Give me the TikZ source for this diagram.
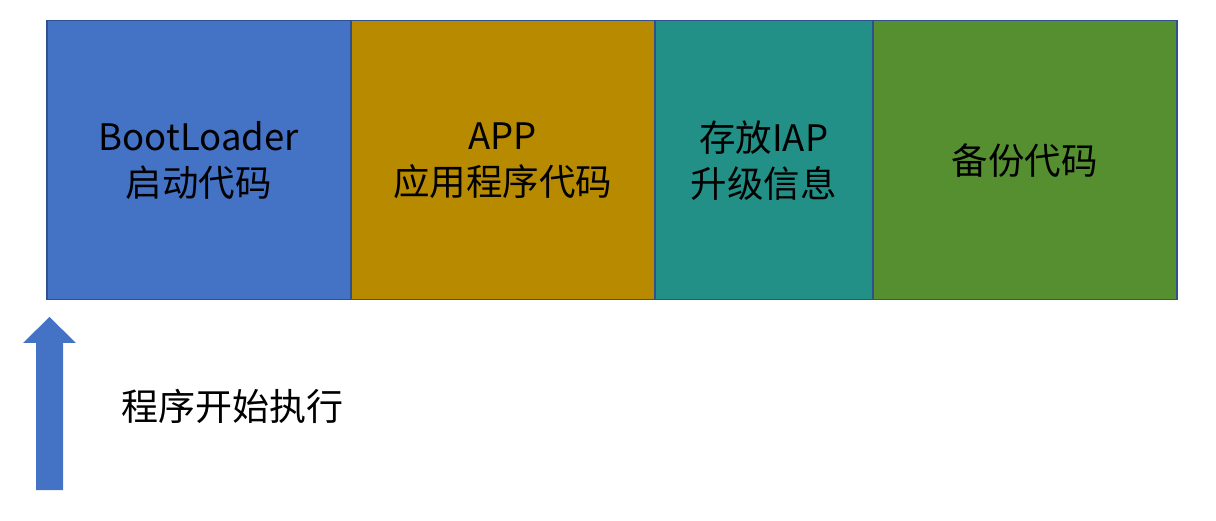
\documentclass[tikz,border=0pt]{standalone}
\usepackage{fontspec}
\setmainfont{Noto Sans CJK SC}
\definecolor{cblue}{HTML}{4472C4}
\definecolor{cgold}{HTML}{B88A00}
\definecolor{cteal}{HTML}{239088}
\definecolor{cgreen}{HTML}{568F30}
\definecolor{cedge}{HTML}{2F528F}
\tikzset{
  seg/.style={draw=cedge, line width=1.5pt, minimum height=279pt, inner sep=0pt, anchor=north west, align=center, font=\fontsize{36.5}{46}\selectfont, text=black},
  label/.style={font=\fontsize{37}{40}\selectfont, text=black, inner sep=0pt}
}
\begin{document}
\begin{tikzpicture}[x=1pt,y=-1pt]
\useasboundingbox (0,0) rectangle (1216,521);
\node[seg, fill=cblue, minimum width=304pt] (boot) at (46,20) {BootLoader\\启动代码};
\node[seg, fill=cgold, minimum width=304pt] (app) at (350,20) {APP\\应用程序代码};
\node[seg, fill=cteal, minimum width=218pt] (iap) at (654,20) {存放IAP\\升级信息};
\node[seg, fill=cgreen, minimum width=304pt] (bak) at (872,20) {备份代码};
\fill[cblue] (36,490) -- (36,343) -- (23,343) -- (49.5,317) -- (76,343) -- (63,343) -- (63,490) -- cycle;
\node[label, anchor=west] (run) at (121,406) {程序开始执行};
\end{tikzpicture}
\end{document}
